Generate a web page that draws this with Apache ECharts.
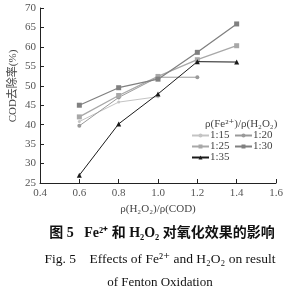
<!DOCTYPE html>
<html>
<head>
<meta charset="utf-8">
<script src="https://cdn.jsdelivr.net/npm/echarts@6/dist/echarts.min.js"></script>
<style>
html,body{margin:0;padding:0;background:#fff;}
#c{width:292px;height:295px;}
</style>
</head>
<body>
<div id="c"></div>
<script>
const xValues = [0.6, 0.8, 1.0, 1.2, 1.4];
const seriesNames = ['1:15', '1:20', '1:25', '1:30', '1:35'];
const s115 = [40.8, 45.8, 47.2, null, null];
const s120 = [39.7, 47.0, 52.2, 52.2, null];
const s125 = [42.0, 47.5, 52.4, 56.7, 60.3];
const s130 = [45.0, 49.5, 51.7, 58.6, 65.9];
const s135 = [27.0, 40.2, 47.9, 56.2, 56.1];
const yTicks = [25, 30, 35, 40, 45, 50, 55, 60, 65, 70];
const xTicks = [0.4, 0.6, 0.8, 1.0, 1.2, 1.4, 1.6];

const serif = '"Liberation Serif","DejaVu Serif",serif';
const cjk = '"Liberation Serif","Noto Sans CJK SC",serif';

function pairs(vals){ return xValues.map((x,i)=>[x, vals[i]]).filter(p=>p[1]!==null); }

const styles = [
  {color:'#c4c4c4', symbol:'circle', size:3, width:1},
  {color:'#9a9a9a', symbol:'circle', size:4, width:1},
  {color:'#a8a8a8', symbol:'rect', size:5, width:1.3},
  {color:'#808080', symbol:'rect', size:5, width:1.3},
  {color:'#1a1a1a', symbol:'triangle', size:5, width:1}
];
const allData = [s115, s120, s125, s130, s135];

const series = allData.map((d,i)=>({
  name: seriesNames[i],
  type: 'line',
  data: pairs(d),
  symbol: styles[i].symbol,
  symbolSize: styles[i].size,
  showAllSymbol: true,
  lineStyle: {color: styles[i].color, width: styles[i].width},
  itemStyle: {color: styles[i].color},
  z: i===4 ? 5 : 2
}));

const legendPos = [[191,130],[234,130],[191,141],[234,141],[191,152]];
const legends = seriesNames.map((n,i)=>({
  data:[n], left:legendPos[i][0], top:legendPos[i][1],
  itemWidth:17, itemHeight:5, itemGap:0, padding:0,
  textStyle:{fontFamily:serif, fontSize:11, color:'#444', padding:[0,0,0,-4]}
}));

const chart = echarts.init(document.getElementById('c'));
chart.setOption({
  animation:false,
  backgroundColor:'#fff',
  grid:{left:40, right:16, top:8, bottom:112, containLabel:false, outerBoundsMode:'none'},
  xAxis:{
    type:'value', min:0.4, max:1.6, interval:0.2,
    name:'ρ(H₂O₂)/ρ(COD)', nameLocation:'middle', nameGap:20,
    nameTextStyle:{fontFamily:serif, fontSize:11, color:'#444'},
    axisLine:{show:true, lineStyle:{color:'#222', width:1}},
    axisTick:{show:true, inside:true, length:4, lineStyle:{color:'#222'}},
    axisLabel:{fontFamily:serif, fontSize:11, color:'#555', margin:5,
      formatter:v=>(Math.round(v*10)/10).toFixed(1)},
    splitLine:{show:false}
  },
  yAxis:{
    type:'value', min:25, max:70, interval:5,
    axisLine:{show:true, lineStyle:{color:'#222', width:1}},
    axisTick:{show:true, inside:true, length:4, lineStyle:{color:'#222'}},
    axisLabel:{fontFamily:serif, fontSize:11, color:'#555', margin:4},
    splitLine:{show:false}
  },
  legend: legends,
  graphic:[
    {type:'text', x:13, y:86, rotation:Math.PI/2, style:{text:'COD去除率(%)', font:'11px '+cjk, fill:'#444', align:'center', verticalAlign:'middle'}},
    {type:'text', left:205, top:119, style:{text:'ρ(Fe²⁺)/ρ(H₂O₂)', font:'11px '+serif, fill:'#444'}},
    {type:'text', x:162, y:233, style:{text:'图 5   Fe²⁺ 和 H₂O₂ 对氧化效果的影响', font:'bold 14px '+cjk, fill:'#111', align:'center', verticalAlign:'middle'}},
    {type:'text', x:160, y:259, style:{text:'Fig. 5    Effects of Fe²⁺ and H₂O₂ on result', font:'13.5px '+serif, fill:'#111', align:'center', verticalAlign:'middle'}},
    {type:'text', x:160, y:283, style:{text:'of Fenton Oxidation', font:'13px '+serif, fill:'#111', align:'center', verticalAlign:'middle'}}
  ],
  series: series
});
</script>
</body>
</html>
